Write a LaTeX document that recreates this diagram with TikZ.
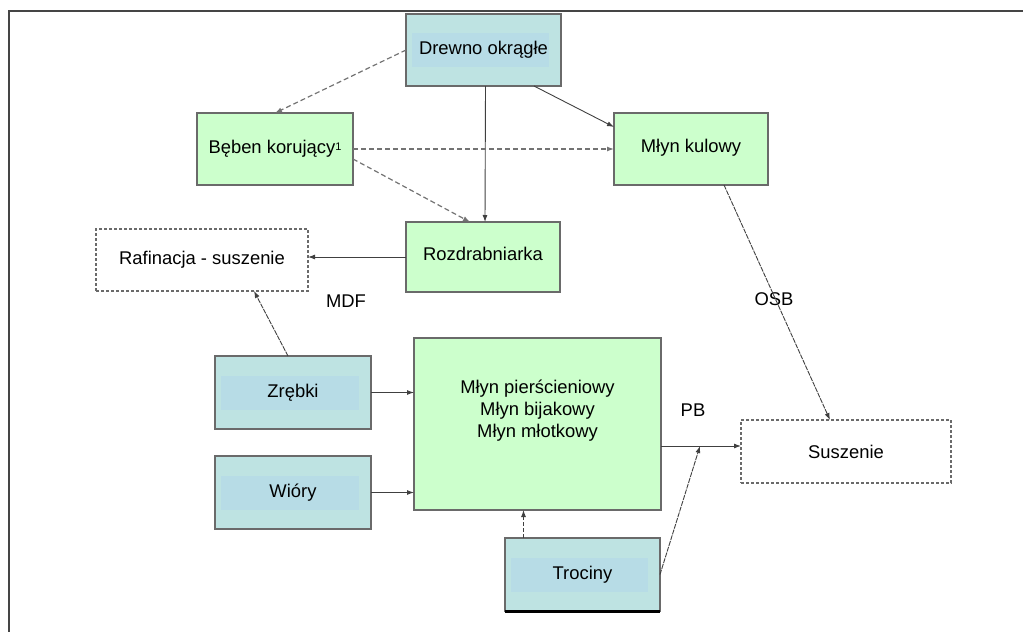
\documentclass[tikz,border=0pt]{standalone}
\usepackage{fontspec}
\setmainfont{Liberation Sans}
\usetikzlibrary{arrows.meta}
\definecolor{boxgreen}{HTML}{CCFFCC}
\definecolor{boxblue}{HTML}{BEE3E2}
\definecolor{bandblue}{HTML}{B7DCE6}
\definecolor{edge}{HTML}{6A6A6A}
\definecolor{wire}{HTML}{404040}
\definecolor{frame}{HTML}{454545}
\begin{document}
\begin{tikzpicture}[x=1pt,y=-1pt,
  font=\fontsize{18.4}{22}\selectfont,
  box/.style={draw=edge,line width=1.4pt,inner sep=0pt,outer sep=0pt,rectangle},
  greenbox/.style={box,fill=boxgreen},
  bluebox/.style={box,fill=boxblue,
    path picture={\fill[bandblue] ([xshift=6pt,yshift=-17pt]path picture bounding box.west)
      rectangle ([xshift=-12pt,yshift=17pt]path picture bounding box.east);}},
  openbox/.style={draw=edge,line width=1.2pt,dash pattern=on 3pt off 2pt,inner sep=0pt,outer sep=0pt,fill=white},
  conn/.style={draw=wire,line width=0.9pt,-{Latex[length=7pt,width=5pt]}},
  dashconn/.style={conn,draw=gray!90!black,line width=1.2pt,dash pattern=on 5pt off 3pt},
  fineconn/.style={conn,dash pattern=on 5pt off 1pt},
  raised/.style={text depth=6pt},
  tag/.style={inner sep=0pt}]
\useasboundingbox (0,0) rectangle (1023,632);
% frame (top and left edge only)
\draw[frame,line width=2.4pt] (9,632) -- (9,11) -- (1023,11);

% process boxes
\node[bluebox,minimum width=155pt,minimum height=72pt] (drewno) at (483.5,50) {Drewno okrągłe};
\node[greenbox,minimum width=156pt,minimum height=72pt] (beben) at (275,149) {Bęben korujący\raisebox{3pt}{\fontsize{11}{11}\selectfont 1}};
\node[greenbox,minimum width=154pt,minimum height=72pt,raised] (mlynk) at (691,149) {Młyn kulowy};
\node[greenbox,minimum width=154pt,minimum height=70pt,raised] (rozdr) at (483,257) {Rozdrabniarka};
\node[openbox,minimum width=212pt,minimum height=62pt] (rafin) at (202,260) {Rafinacja - suszenie};
\node[bluebox,minimum width=156pt,minimum height=73pt] (zrebki) at (293,392.5) {Zrębki};
\node[bluebox,minimum width=156pt,minimum height=73pt] (wiory) at (293,492.5) {Wióry};
\node[greenbox,minimum width=247pt,minimum height=172pt,
  label={[yshift=13pt,align=center,font=\fontsize{18.4}{22}\selectfont]center:Młyn pierścieniowy\\Młyn bijakowy\\Młyn młotkowy}] (mlyny) at (537.5,424) {};
\node[openbox,minimum width=210pt,minimum height=63pt] (susz) at (846,451.5) {Suszenie};
\node[bluebox,minimum width=155pt,minimum height=73pt] (trociny) at (582.5,574.5) {Trociny};
\draw[black,line width=3pt] (trociny.south west) -- (trociny.south east);

% product labels
\node[tag] (mdf) at (346,301) {MDF};
\node[tag] (osb) at (774,299) {OSB};
\node[tag] (pb) at (693,410) {PB};

% connectors
\draw[dashconn] (drewno.west) -- (beben.north);
\draw[conn] ([xshift=2pt]drewno.south) -- ([xshift=2pt]rozdr.north);
\draw[conn] ([xshift=-27pt]drewno.south east) -- ([yshift=22pt]mlynk.west);
\draw[dashconn] (beben.east) -- (mlynk.west);
\draw[dashconn] ([yshift=-10pt]beben.east) -- ([xshift=-13pt]rozdr.north);
\draw[conn] (rozdr.west) -- (rozdr.west -| rafin.east);
\draw[fineconn] ([xshift=-5pt]zrebki.north) -- ([xshift=52pt]rafin.south);
\draw[conn] (zrebki.east) -- (zrebki.east -| mlyny.west);
\draw[conn] (wiory.east) -- (wiory.east -| mlyny.west);
\draw[conn,dash pattern=on 4pt off 2pt] ([xshift=-59pt]trociny.north) -- ([xshift=-59pt]trociny.north |- mlyny.south);
\coordinate (mout) at ([yshift=-22pt]mlyny.east);
\draw[conn] (mout) -- (mout -| susz.west);
\coordinate (pbjoin) at (700,446);
\draw[fineconn] (trociny.east) -- (pbjoin);
\draw[fineconn] ([xshift=33pt]mlynk.south) -- ([xshift=-16pt]susz.north);
\end{tikzpicture}
\end{document}
